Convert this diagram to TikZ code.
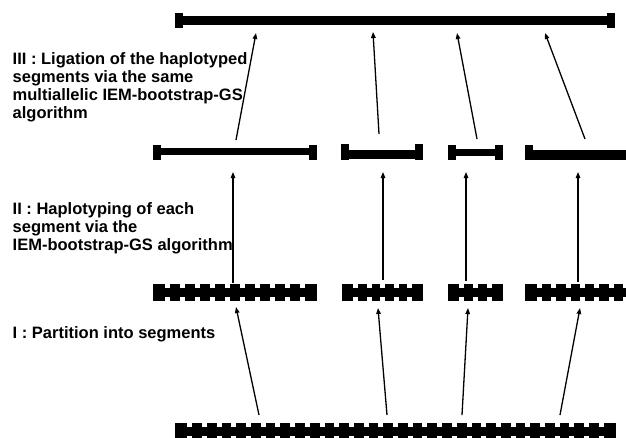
\documentclass[tikz,border=0pt]{standalone}
\usepackage{fontspec}
\setmainfont{Liberation Sans}
\usetikzlibrary{arrows.meta}
\newcommand\mysegbar[4]{% x1, x2, ytop, number of notches
  \fill (#1,#3) rectangle (#2,#3+17);
  \foreach \k in {1,...,#4}{
    \fill[white] ({#1+(#2-#1)*\k/(#4+1)-2.5},#3-0.2) rectangle ++(5,4.2);
    \fill[white] ({#1+(#2-#1)*\k/(#4+1)-2.5},#3+17.2) rectangle ++(5,-4.2);
  }
}
\newcommand\myrangebar[6]{% x1, x2, bar top, bar bottom, cap top, cap bottom
  \fill (#1,#3) rectangle (#2,#4);
  \fill (#1,#5) rectangle (#1+8,#6);
  \fill (#2-8,#5) rectangle (#2,#6);
}
\begin{document}
\begin{tikzpicture}[x=1pt,y=-1pt,
  arr/.style={line width=1.3pt,-{Triangle[length=6pt,width=4.5pt]}},
  lbl/.style={anchor=base west,align=left,inner sep=0pt,
    font=\fontsize{16.5}{17.7}\selectfont\bfseries}]
\useasboundingbox (0,0) rectangle (626,437);
\clip (0,0) rectangle (626,437);
% top bar
\myrangebar{175}{615}{16}{25}{13.3}{28.3}
% level 2 bars
\myrangebar{153}{317}{148.3}{155}{144.5}{160}
\myrangebar{341}{423}{149.5}{159}{143.5}{160}
\myrangebar{448}{503}{149}{155.5}{145}{160}
\fill (525,149.5) rectangle (630,160);
\fill (525,144.5) rectangle (533,160);
% level 3 segmented bars
\mysegbar{153}{317}{284}{10}
\mysegbar{342}{423}{284}{5}
\mysegbar{448}{503}{284}{3}
\mysegbar{525}{640}{284}{7}
% bottom bar
\mysegbar{175}{616}{422.5}{29}
% arrow coordinates
\coordinate (a1s) at (259,415); \coordinate (a1e) at (236,307);
\coordinate (a2s) at (387,415); \coordinate (a2e) at (378,308);
\coordinate (a3s) at (462,415); \coordinate (a3e) at (468,308);
\coordinate (a4s) at (560,415); \coordinate (a4e) at (580,308);
\coordinate (b1s) at (233,283); \coordinate (b1e) at (233,172);
\coordinate (b2s) at (383,280); \coordinate (b2e) at (383,172);
\coordinate (b3s) at (466,281); \coordinate (b3e) at (466,172);
\coordinate (b4s) at (578,282); \coordinate (b4e) at (578,172);
\coordinate (c1s) at (236,140); \coordinate (c1e) at (256,33);
\coordinate (c2s) at (379,134); \coordinate (c2e) at (373,32);
\coordinate (c3s) at (477,139); \coordinate (c3e) at (457,33);
\coordinate (c4s) at (585,139); \coordinate (c4e) at (545,33);
\foreach \p in {a1,a2,a3,a4,b1,b2,b3,b4,c1,c2,c3,c4}
  \draw[arr] (\p s) -- (\p e);
% labels
\node[lbl] (t3) at (12.5,118) {III : Ligation of the haplotyped\\segments via the same\\multiallelic IEM-bootstrap-GS\\algorithm};
\node[lbl] (t2) at (12.5,250) {II : Haplotyping of each\\segment via the\\IEM-bootstrap-GS algorithm};
\node[lbl] (t1) at (12.5,338) {I : Partition into segments};
\end{tikzpicture}
\end{document}
